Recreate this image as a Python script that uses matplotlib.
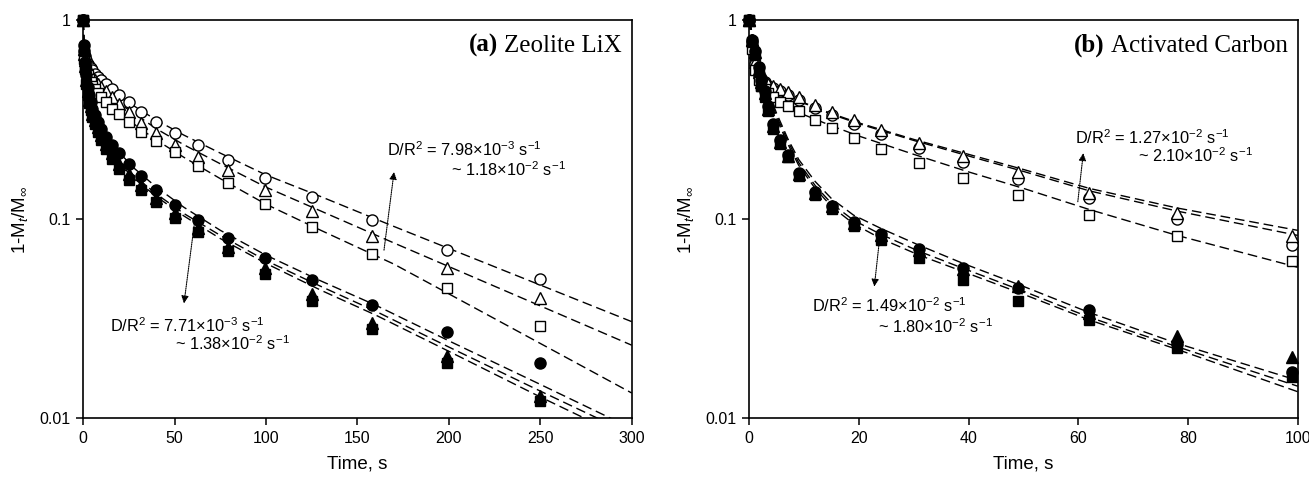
import numpy as np
import matplotlib
matplotlib.use("Agg")
from matplotlib import pyplot as plt

plt.rcParams['font.family'] = ['Liberation Sans', 'DejaVu Sans']
plt.rcParams['mathtext.fontset'] = 'custom'
plt.rcParams['mathtext.rm'] = 'Liberation Sans'
plt.rcParams['mathtext.it'] = 'Liberation Sans:italic'
plt.rcParams['mathtext.bf'] = 'Liberation Sans:bold'

# ---- (a) Zeolite LiX : uptake data ----
time_a = [0, 0.5, 1, 1.6, 2.5, 3.2, 4, 5, 6.3, 7.9, 9.9, 12.5, 15.7, 19.8,
          25, 31.4, 39.6, 50, 63, 79, 99.5, 125, 158, 199, 250]
a_open_circle = [1, 0.70, 0.66, 0.63, 0.605, 0.59, 0.575, 0.56, 0.54, 0.52, 0.50,
                 0.477, 0.452, 0.421, 0.387, 0.347, 0.309, 0.270, 0.236, 0.199,
                 0.161, 0.129, 0.099, 0.070, 0.050]
a_open_triangle = [1, 0.68, 0.63, 0.60, 0.57, 0.55, 0.535, 0.515, 0.50, 0.48, 0.46,
                   0.44, 0.41, 0.378, 0.347, 0.304, 0.270, 0.236, 0.206, 0.177,
                   0.140, 0.110, 0.082, 0.057, 0.040]
a_open_square = [1, 0.64, 0.59, 0.56, 0.53, 0.51, 0.49, 0.47, 0.45, 0.43, 0.41,
                 0.39, 0.36, 0.337, 0.309, 0.275, 0.247, 0.219, 0.186, 0.152,
                 0.119, 0.092, 0.067, 0.045, 0.029]
a_fill_circle = [1, 0.75, 0.62, 0.53, 0.46, 0.42, 0.39, 0.36, 0.335, 0.31, 0.285,
                 0.26, 0.235, 0.215, 0.19, 0.165, 0.14, 0.118, 0.099, 0.081,
                 0.064, 0.0495, 0.037, 0.027, 0.019]
a_fill_triangle = [1, 0.72, 0.59, 0.50, 0.44, 0.40, 0.37, 0.34, 0.315, 0.29, 0.265,
                   0.24, 0.215, 0.19, 0.168, 0.148, 0.128, 0.107, 0.090, 0.073,
                   0.057, 0.042, 0.030, 0.0205, 0.0130]
a_fill_square = [1, 0.70, 0.57, 0.48, 0.42, 0.385, 0.355, 0.325, 0.30, 0.275, 0.25,
                 0.225, 0.20, 0.178, 0.158, 0.14, 0.122, 0.101, 0.086, 0.069,
                 0.053, 0.039, 0.028, 0.019, 0.0122]

# (a) model curves
fit_time_a_open = [0, 0.5, 1, 2, 3, 5, 7, 10, 14, 20, 28, 40, 55, 75, 100, 130, 170, 300]
fit_a_open_circle = [1, 0.72, 0.66, 0.615, 0.59, 0.55, 0.52, 0.485, 0.45, 0.41, 0.37,
                     0.315, 0.265, 0.215, 0.167, 0.13, 0.092, 0.0306]
fit_a_open_triangle = [1, 0.70, 0.64, 0.59, 0.56, 0.52, 0.49, 0.455, 0.42, 0.38, 0.34,
                       0.285, 0.237, 0.19, 0.145, 0.11, 0.076, 0.0233]
fit_a_open_square = [1, 0.66, 0.60, 0.55, 0.52, 0.48, 0.45, 0.415, 0.38, 0.34, 0.30,
                     0.25, 0.205, 0.16, 0.119, 0.088, 0.0595, 0.0134]
fit_time_a_fill = [0, 0.3, 0.7, 1, 2, 3, 5, 7, 10, 14, 20, 28, 40, 55, 75, 100, 130,
                   160, 200, 250, 300]
fit_a_fill_circle = [1, 0.75, 0.62, 0.57, 0.48, 0.43, 0.37, 0.33, 0.29, 0.255, 0.215,
                     0.18, 0.145, 0.115, 0.088, 0.066, 0.049, 0.037, 0.0245, 0.0148, 0.0089]
fit_a_fill_triangle = [1, 0.72, 0.58, 0.53, 0.44, 0.39, 0.335, 0.30, 0.265, 0.23, 0.195,
                       0.165, 0.134, 0.107, 0.083, 0.062, 0.046, 0.0345, 0.0228, 0.0137, 0.0083]
fit_a_fill_square = [1, 0.70, 0.56, 0.51, 0.425, 0.38, 0.325, 0.29, 0.257, 0.225, 0.19,
                     0.16, 0.13, 0.104, 0.080, 0.060, 0.044, 0.033, 0.0217, 0.0128, 0.0077]

# ---- (b) Activated carbon : uptake data ----
time_b = [0, 0.5, 1.1, 1.7, 2.2, 2.8, 3.5, 4.4, 5.6, 7.1, 9.1, 12, 15.1, 19.1,
          24, 31, 39, 49, 62, 78, 99]
b_open_triangle = [1, 0.80, 0.62, 0.55, 0.52, 0.50, 0.48, 0.465, 0.45, 0.435, 0.41,
                   0.375, 0.345, 0.315, 0.28, 0.243, 0.207, 0.172, 0.136, 0.108, 0.082]
b_open_circle = [1, 0.78, 0.60, 0.54, 0.51, 0.49, 0.47, 0.455, 0.44, 0.42, 0.398,
                 0.364, 0.334, 0.303, 0.268, 0.229, 0.195, 0.160, 0.128, 0.100, 0.074]
b_open_square = [1, 0.72, 0.56, 0.50, 0.47, 0.45, 0.43, 0.41, 0.39, 0.37, 0.35,
                 0.315, 0.287, 0.257, 0.226, 0.192, 0.162, 0.132, 0.105, 0.082, 0.062]
b_fill_circle = [1, 0.80, 0.70, 0.58, 0.50, 0.44, 0.37, 0.30, 0.25, 0.211, 0.170,
                 0.137, 0.117, 0.097, 0.084, 0.071, 0.057, 0.045, 0.035, 0.0235, 0.0171]
b_fill_triangle = [1, 0.80, 0.69, 0.57, 0.49, 0.43, 0.36, 0.295, 0.245, 0.209, 0.168,
                   0.135, 0.116, 0.096, 0.083, 0.070, 0.0565, 0.046, 0.034, 0.026, 0.0204]
b_fill_square = [1, 0.78, 0.67, 0.55, 0.47, 0.41, 0.35, 0.285, 0.24, 0.205, 0.165,
                 0.132, 0.113, 0.093, 0.079, 0.0637, 0.0495, 0.039, 0.0312, 0.0225, 0.0162]

# (b) model curves
fit_time_b_open = [0, 0.5, 1, 2, 3, 4.5, 7, 10, 15, 20, 30, 40, 50, 62, 78, 100]
fit_b_open_triangle = [1, 0.80, 0.68, 0.56, 0.50, 0.46, 0.42, 0.385, 0.34, 0.305, 0.252,
                       0.212, 0.178, 0.143, 0.114, 0.088]
fit_b_open_circle = [1, 0.80, 0.68, 0.56, 0.50, 0.46, 0.42, 0.383, 0.337, 0.302, 0.249,
                     0.208, 0.174, 0.139, 0.110, 0.083]
fit_b_open_square = [1, 0.75, 0.62, 0.50, 0.45, 0.41, 0.37, 0.335, 0.295, 0.262, 0.212,
                     0.173, 0.143, 0.112, 0.083, 0.0574]
fit_time_b_fill = [0, 1, 2, 3, 4, 5, 7, 9, 12, 15, 19, 24, 31, 39, 50, 62, 78, 100]
fit_b_fill_circle = [1, 0.76, 0.58, 0.48, 0.40, 0.34, 0.255, 0.20, 0.155, 0.127, 0.105,
                     0.090, 0.074, 0.060, 0.046, 0.034, 0.0238, 0.0155]
fit_b_fill_triangle = [1, 0.75, 0.57, 0.47, 0.39, 0.33, 0.248, 0.193, 0.148, 0.120, 0.099,
                       0.084, 0.069, 0.0567, 0.0435, 0.0322, 0.0229, 0.0145]
fit_b_fill_square = [1, 0.74, 0.56, 0.46, 0.38, 0.32, 0.24, 0.187, 0.143, 0.116, 0.095,
                     0.080, 0.066, 0.0546, 0.042, 0.0312, 0.0222, 0.0136]

DASH = (7, 3.5)
SERIF = 'Liberation Serif'


def style_axes(ax, xmax, xstep):
    ax.set_yscale('log')
    ax.set_ylim(0.01, 1)
    ax.set_xlim(0, xmax)
    ax.set_xticks(np.arange(0, xmax + 1, xstep))
    ax.set_yticks([0.01, 0.1, 1])
    ax.set_yticklabels(['0.01', '0.1', '1'])
    ax.yaxis.set_minor_locator(matplotlib.ticker.NullLocator())
    ax.tick_params(direction='out', length=5, width=1.1, labelsize=11.5, pad=4)
    for s in ax.spines.values():
        s.set_linewidth(1.2)
    ax.set_xlabel('Time, s', fontsize=13.5, labelpad=7)
    ax.set_ylabel(r'1-M$_t$/M$_\infty$', fontsize=13.5)
    ax.yaxis.set_label_coords(-0.098, 0.5)


def draw_fits(ax, t, curves):
    for y in curves:
        ax.plot(t, y, color='black', lw=1.0, linestyle='--', dashes=DASH, zorder=2)


def draw_points(ax, t, series):
    for y, marker, filled in series:
        ax.plot(t, y, linestyle='none', marker=marker, markersize=8 if marker != 's' else 7,
                markerfacecolor='black' if filled else 'white',
                markeredgecolor='black', markeredgewidth=1.0, zorder=3, clip_on=False)


def panel_title(fig, ax, tag, name):
    # plain serif name, right aligned, with the bold tag just to its left
    t = ax.text(0.982, 0.921, name, transform=ax.transAxes, ha='right', va='baseline',
                fontsize=18, family=SERIF)
    fig.canvas.draw()
    bb = t.get_window_extent()
    x0 = ax.transAxes.inverted().transform((bb.x0 - 6, bb.y0))[0]
    ax.text(x0, 0.921, tag, transform=ax.transAxes, ha='right', va='baseline',
            fontsize=18, family=SERIF, fontweight='bold')


def label_rate(ax, xy_tail, xy_head, text_xy, line1, line2, dx2, dy2=0.05):
    ax.annotate('', xy=xy_head, xytext=xy_tail,
                arrowprops=dict(arrowstyle='-|>', linestyle=(0, (1, 1)), lw=0.8,
                                color='black', mutation_scale=11, shrinkA=0, shrinkB=0))
    ax.text(text_xy[0], text_xy[1], line1, transform=ax.transAxes, fontsize=11.8,
            ha='left', va='center')
    ax.text(text_xy[0] + dx2, text_xy[1] - dy2, line2, transform=ax.transAxes,
            fontsize=11.8, ha='left', va='center')


fig = plt.figure(figsize=(13.09, 4.78), dpi=100)
ax_a = fig.add_axes([0.0636, 0.1249, 0.419, 0.8326])
ax_b = fig.add_axes([0.5724, 0.1249, 0.419, 0.8326])

# panel (a)
draw_fits(ax_a, fit_time_a_open, [fit_a_open_circle, fit_a_open_triangle, fit_a_open_square])
draw_fits(ax_a, fit_time_a_fill, [fit_a_fill_circle, fit_a_fill_triangle, fit_a_fill_square])
draw_points(ax_a, time_a, [(a_open_circle, 'o', False), (a_open_triangle, '^', False),
                           (a_open_square, 's', False), (a_fill_square, 's', True),
                           (a_fill_triangle, '^', True), (a_fill_circle, 'o', True)])
style_axes(ax_a, 300, 50)
label_rate(ax_a, (164.5, 0.070), (170, 0.173), (0.553, 0.674),
           r'D/R$^2$ = 7.98$\times$10$^{-3}$ s$^{-1}$',
           r'~ 1.18$\times$10$^{-2}$ s$^{-1}$', 0.117)
label_rate(ax_a, (60.9, 0.097), (55.1, 0.0378), (0.049, 0.234),
           r'D/R$^2$ = 7.71$\times$10$^{-3}$ s$^{-1}$',
           r'~ 1.38$\times$10$^{-2}$ s$^{-1}$', 0.118, 0.046)

# panel (b)
draw_fits(ax_b, fit_time_b_open, [fit_b_open_triangle, fit_b_open_circle, fit_b_open_square])
draw_fits(ax_b, fit_time_b_fill, [fit_b_fill_circle, fit_b_fill_triangle, fit_b_fill_square])
draw_points(ax_b, time_b, [(b_open_circle, 'o', False), (b_open_triangle, '^', False),
                           (b_open_square, 's', False), (b_fill_square, 's', True),
                           (b_fill_circle, 'o', True), (b_fill_triangle, '^', True)])
style_axes(ax_b, 100, 20)
label_rate(ax_b, (59.9, 0.1226), (60.9, 0.215), (0.594, 0.704),
           r'D/R$^2$ = 1.27$\times$10$^{-2}$ s$^{-1}$',
           r'~ 2.10$\times$10$^{-2}$ s$^{-1}$', 0.115, 0.044)
label_rate(ax_b, (23.8, 0.0818), (22.8, 0.0459), (0.114, 0.282),
           r'D/R$^2$ = 1.49$\times$10$^{-2}$ s$^{-1}$',
           r'~ 1.80$\times$10$^{-2}$ s$^{-1}$', 0.12, 0.052)

panel_title(fig, ax_a, '(a)', 'Zeolite LiX')
panel_title(fig, ax_b, '(b)', 'Activated Carbon')

fig.savefig('out.png', dpi=100)
